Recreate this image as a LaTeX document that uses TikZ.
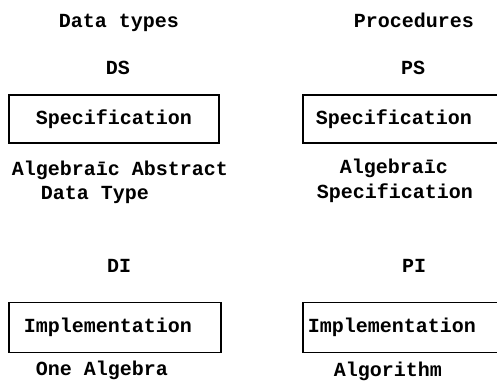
\documentclass[tikz,border=0pt]{standalone}
\usepackage{fontspec}
\setmonofont{Liberation Mono}
\begin{document}
\begin{tikzpicture}[x=1pt,y=-1pt,
  tw/.style={font=\ttfamily\bfseries\fontsize{20}{24}\selectfont},
  lbl/.style={tw, inner sep=0pt, anchor=base},
  boxed/.style={tw, draw, line width=1.6pt, inner ysep=0pt, anchor=west, align=left}]
  \useasboundingbox (0,0) rectangle (497,384);
  % column headings
  \node[lbl] (dtypes) at (119,27) {Data types};
  \node[lbl] (procs)  at (414,27) {Procedures};
  % specification level
  \node[lbl] (ds) at (118,74) {DS};
  \node[lbl] (ps) at (413,74) {PS};
  \node[boxed, inner xsep=27pt, text width=156pt, minimum height=48] (specL) at (8,119) {Specification};
  \node[boxed, inner xsep=13pt, text width=190pt, minimum height=48] (specR) at (302,119) {Specification};
  \node[lbl] (aadt1) at (120,175) {Algebraīc Abstract};
  \node[lbl] (aadt2) at (95,199) {Data Type};
  \node[lbl] (aspec1) at (394,173) {Algebraīc};
  \node[lbl] (aspec2) at (395,198) {Specification};
  % implementation level
  \node[lbl] (di) at (119,272) {DI};
  \node[lbl] (pi) at (414,272) {PI};
  \node[boxed, inner xsep=15pt, text width=182pt, minimum height=50] (implL) at (8,327.5) {Implementation};
  \node[boxed, inner xsep=5pt, text width=200pt, minimum height=50] (implR) at (302,327.5) {Implementation};
  \node[lbl] (onealg) at (102,375) {One Algebra};
  \node[lbl] (algo)   at (388,376) {Algorithm};
\end{tikzpicture}
\end{document}
